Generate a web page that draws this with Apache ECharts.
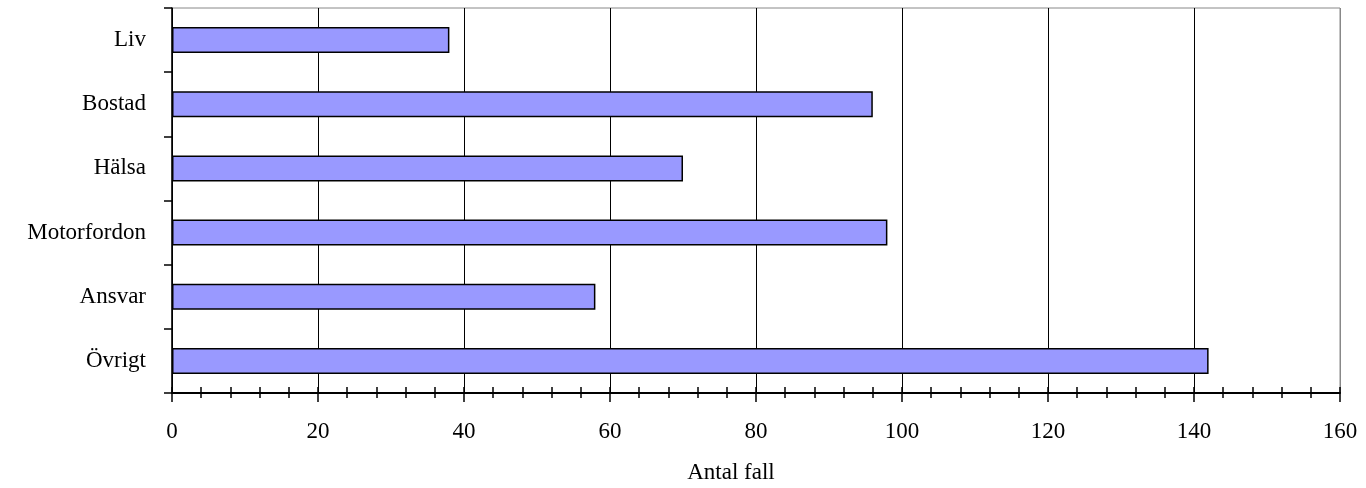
<!DOCTYPE html>
<html>
<head>
<meta charset="utf-8">
<script src="https://cdn.jsdelivr.net/npm/echarts@6/dist/echarts.min.js"></script>
<style>
html,body{margin:0;padding:0;background:#fff;}
#chart{width:1366px;height:488px;}
</style>
</head>
<body>
<div id="chart"></div>
<script>
const categories = ['Liv', 'Bostad', 'Hälsa', 'Motorfordon', 'Ansvar', 'Övrigt'];
const values = [38, 96, 70, 98, 58, 142];
const axisName = 'Antal fall';

const font = 'Liberation Serif, Times New Roman, serif';
const chart = echarts.init(document.getElementById('chart'));
const xBase = { type: 'value', min: 0, max: 160, interval: 20, position: 'bottom', offset: 0 };
chart.setOption({
  animation: false,
  backgroundColor: '#fff',
  grid: { left: 172, right: 26, top: 8, bottom: 95, containLabel: false, outerBoundsMode: 'none', show: true, borderColor: '#888', borderWidth: 1, backgroundColor: 'transparent' },
  xAxis: [
    Object.assign({}, xBase, {
      name: axisName,
      nameLocation: 'middle',
      nameGap: 68,
      nameTextStyle: { fontFamily: font, fontSize: 23, color: '#000', padding: [0, 50, 0, 0] },
      axisLine: { show: true, lineStyle: { color: '#000', width: 2 } },
      axisTick: { show: true, inside: false, length: 9, lineStyle: { color: '#000', width: 1.5 } },
      minorTick: { show: true, splitNumber: 5, length: 5, lineStyle: { color: '#000', width: 1.5 } },
      axisLabel: { fontFamily: font, fontSize: 23, color: '#000', margin: 27 },
      splitLine: { show: true, lineStyle: { color: ['#000','#000','#000','#000','#000','#000','#000','#000','#888'], width: 1 } }
    }),
    Object.assign({}, xBase, {
      axisLine: { show: false },
      axisTick: { show: true, inside: true, length: 6, lineStyle: { color: '#000', width: 1.5 } },
      minorTick: { show: true, splitNumber: 5, length: 6, lineStyle: { color: '#000', width: 1.5 } },
      axisLabel: { show: false },
      splitLine: { show: false }
    })
  ],
  yAxis: {
    type: 'category',
    data: categories,
    inverse: true,
    axisLine: { show: true, lineStyle: { color: '#000', width: 1.5 } },
    axisTick: { show: true, inside: false, length: 8, lineStyle: { color: '#000', width: 1.5 } },
    axisLabel: { fontFamily: font, fontSize: 23, color: '#000', margin: 26 },
    splitLine: { show: false }
  },
  series: [{
    type: 'bar',
    xAxisIndex: 0,
    data: values,
    barWidth: 26,
    itemStyle: { color: '#9999FF', borderColor: '#000', borderWidth: 1.5 }
  }]
});
</script>
</body>
</html>
